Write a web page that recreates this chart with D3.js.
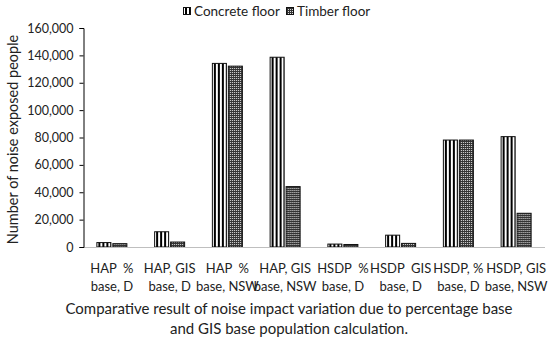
<!DOCTYPE html>
<html>
<head>
<meta charset="utf-8">
<script src="https://cdn.jsdelivr.net/npm/d3@7"></script>
<style>
  body { margin: 0; background: #fff; }
  svg { font-family: Lato, "Open Sans", sans-serif; }
</style>
</head>
<body>
<div id="chart"></div>
<script>
const categories = [
    ["HAP  %", "base, D"],
    ["HAP, GIS", "base, D"],
    ["HAP  %", "base, NSW"],
    ["HAP, GIS", "base, NSW"],
    ["HSDP  %", "base, D"],
    ["HSDP  GIS", "base, D"],
    ["HSDP, %", "base, D"],
    ["HSDP, GIS", "base, NSW"]
];
const seriesNames = ["Concrete floor", "Timber floor"];
const concreteValues = [3600, 11500, 134500, 139000, 2500, 9000, 78500, 81000];
const timberValues = [2800, 4000, 132500, 44500, 2200, 3000, 78500, 25000];
const yTicks = [0, 20000, 40000, 60000, 80000, 100000, 120000, 140000, 160000];

const width = 550, height = 340;
const margin = { top: 28, right: 5, bottom: 93, left: 83 };

const svg = d3.select("#chart").append("svg")
    .attr("width", width)
    .attr("height", height);

const defs = svg.append("defs");
// vertical stripes for concrete
const p1 = defs.append("pattern")
    .attr("id", "pat-concrete")
    .attr("patternUnits", "userSpaceOnUse")
    .attr("width", 4).attr("height", 4);
p1.append("rect").attr("width", 4).attr("height", 4).attr("fill", "#fff");
p1.append("rect").attr("x", 2).attr("width", 2).attr("height", 4).attr("fill", "#000");
// fine dots for timber
const p2 = defs.append("pattern")
    .attr("id", "pat-timber")
    .attr("patternUnits", "userSpaceOnUse")
    .attr("width", 2).attr("height", 2);
p2.append("rect").attr("width", 2).attr("height", 2).attr("fill", "#333");
p2.append("rect").attr("width", 1).attr("height", 1).attr("fill", "#ddd");

const fills = ["url(#pat-concrete)", "url(#pat-timber)"];

const x = d3.scaleBand()
    .domain(d3.range(categories.length))
    .range([margin.left, width - margin.right]);

const x1 = d3.scaleBand()
    .domain([0, 1])
    .range([0, 31])
    .paddingInner(0.06);

const y = d3.scaleLinear()
    .domain([0, 160000])
    .range([height - margin.bottom, margin.top]);

// bars
const data = categories.map((c, i) => [concreteValues[i], timberValues[i]]);
const groups = svg.append("g").selectAll("g")
    .data(data)
    .join("g")
    .attr("transform", (d, i) => `translate(${x(i) + x.bandwidth() / 2 - 15.5},0)`);

groups.selectAll("rect")
    .data(d => d)
    .join("rect")
    .attr("x", (d, j) => x1(j) + 0.5)
    .attr("y", d => y(d) + 0.5)
    .attr("width", x1.bandwidth() - 1)
    .attr("height", d => Math.max(0, y(0) - y(d) - 0.5))
    .attr("fill", (d, j) => fills[j])
    .attr("stroke", "#111")
    .attr("stroke-width", 1);

// baseline
svg.append("line")
    .attr("x1", margin.left).attr("x2", width - margin.right)
    .attr("y1", y(0) + 0.5).attr("y2", y(0) + 0.5)
    .attr("stroke", "#bfbfbf");

// y axis
const yAxis = svg.append("g")
    .attr("transform", `translate(${margin.left + 0.5},0)`)
    .call(d3.axisLeft(y).tickValues(yTicks).tickSize(4).tickSizeOuter(4)
        .tickFormat(d3.format(",")));
yAxis.select(".domain").attr("stroke", "#000");
yAxis.selectAll(".tick line").attr("stroke", "#000");
yAxis.selectAll("text")
    .attr("font-size", 12.5)
    .attr("font-family", "Lato, sans-serif")
    .attr("fill", "#222")
    .attr("x", -10);

// x labels
const xl = svg.append("g").selectAll("text")
    .data(categories)
    .join("text")
    .attr("text-anchor", "middle")
    .attr("font-size", 13)
    .attr("fill", "#222")
    .attr("x", (d, i) => x(i) + x.bandwidth() / 2)
    .attr("y", 273);
xl.selectAll("tspan")
    .data(d => d)
    .join("tspan")
    .attr("x", function() { return d3.select(this.parentNode).attr("x"); })
    .attr("dy", (d, i) => i === 0 ? 0 : 17.5)
    .style("white-space", "pre")
    .text(d => d);

// y title
svg.append("text")
    .attr("transform", `translate(18,${(y(0) + y(160000)) / 2 + 2}) rotate(-90)`)
    .attr("text-anchor", "middle")
    .attr("font-size", 14.5)
    .attr("fill", "#222")
    .text("Number of noise exposed people");

// caption
svg.append("text")
    .attr("x", width / 2 + 14)
    .attr("y", 314)
    .attr("text-anchor", "middle")
    .attr("font-size", 15)
    .attr("fill", "#222")
    .text("Comparative result of noise impact variation due to percentage base");
svg.append("text")
    .attr("x", width / 2 + 14)
    .attr("y", 334)
    .attr("text-anchor", "middle")
    .attr("font-size", 15)
    .attr("fill", "#222")
    .text("and GIS base population calculation.");

// legend
const legendX = [183, 286];
const lg = svg.append("g").selectAll("g")
    .data(seriesNames)
    .join("g")
    .attr("transform", (d, i) => `translate(${legendX[i]},7)`);
lg.append("rect")
    .attr("x", 0.5).attr("y", 0.5)
    .attr("width", 7).attr("height", 7)
    .attr("fill", (d, i) => fills[i])
    .attr("stroke", "#111");
lg.append("text")
    .attr("x", 11)
    .attr("y", 8.5)
    .attr("font-size", 13.5)
    .attr("fill", "#222")
    .text(d => d);
</script>
</body>
</html>
